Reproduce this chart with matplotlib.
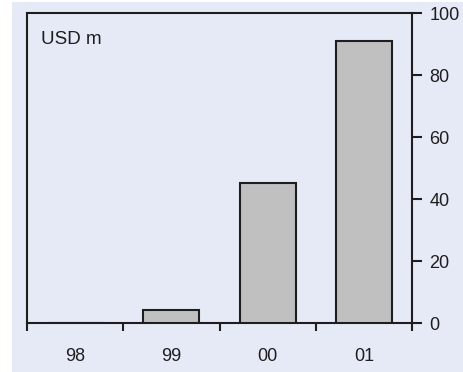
import numpy as np
import matplotlib.pyplot as plt
from matplotlib.patches import Rectangle

years = ['98', '99', '00', '01']
usd_m = [0, 4.2, 45.2, 91]
y_ticks = [0, 20, 40, 60, 80, 100]

bg = '#e6eaf6'
ink = '#1e1e1e'

plt.rcParams['font.family'] = ['Liberation Sans', 'DejaVu Sans']

fig = plt.figure(figsize=(4.64, 3.72), dpi=100)
fig.patch.set_facecolor('white')
# shaded panel behind the chart
fig.patches.append(Rectangle((12 / 464, 0), 1, 370 / 372, transform=fig.transFigure,
                             facecolor=bg, edgecolor='none', zorder=-10))

ax = fig.add_axes([27 / 464, 49 / 372, 385 / 464, 310 / 372])
ax.set_zorder(5)
ax.set_facecolor(bg)

x = np.arange(len(years))
ax.bar(x, usd_m, width=0.58, color='#c0c0c0', edgecolor=ink, linewidth=1.5, zorder=3)

ax.set_xlim(-0.5, len(years) - 0.5)
ax.set_ylim(0, 100)

# category boundaries get tick marks, labels sit at the centres
ax.set_xticks(np.arange(len(years) + 1) - 0.5)
ax.set_xticklabels([])
ax.set_xticks(x, minor=True)
ax.set_xticklabels(years, minor=True)
ax.tick_params(axis='x', which='major', direction='out', length=6, width=1.5, color=ink)
ax.tick_params(axis='x', which='minor', length=0, pad=18, labelsize=13, labelcolor=ink)

ax.yaxis.tick_right()
ax.set_yticks(y_ticks)
ax.tick_params(axis='y', direction='out', length=7, width=1.5, color=ink,
               pad=5.5, labelsize=13, labelcolor=ink)

for side in ax.spines.values():
    side.set_color(ink)
    side.set_linewidth(1.5)

ax.text(0.036, 0.899, 'USD m', transform=ax.transAxes, ha='left', va='baseline',
        fontsize=13.5, color=ink)

fig.savefig('out.png', dpi=100)
